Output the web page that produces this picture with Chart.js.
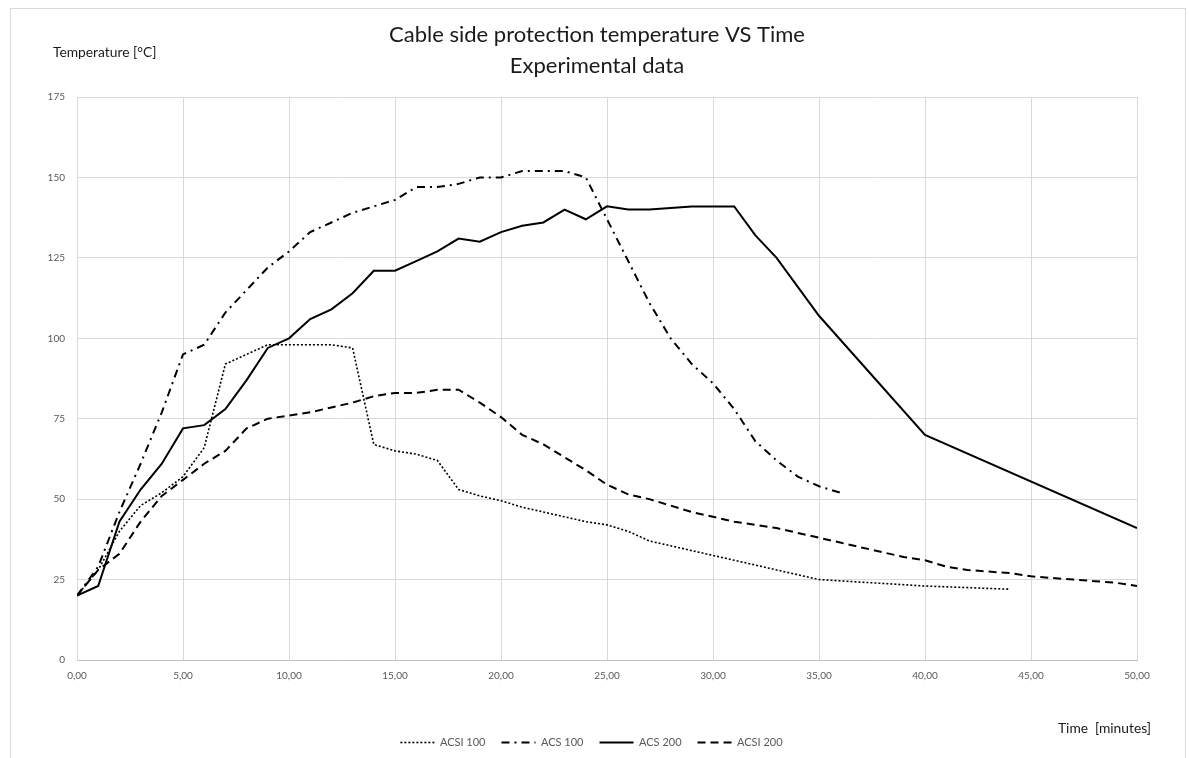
<!DOCTYPE html>
<html lang="en">
<head>
    <meta charset="UTF-8">
    <title>Cable side protection temperature VS Time</title>
    <script src="https://cdn.jsdelivr.net/npm/chart.js"></script>
    <style>
        html, body { margin: 0; padding: 0; background: #fff; }
        #wrap { position: relative; width: 1189px; height: 758px; }
    </style>
</head>
<body>
    <div id="wrap"><canvas id="myChart"></canvas></div>
    <script>
        // (time in minutes, temperature in °C)
        const acsi100Time = [0,1,2,3,4,5,6,7,8,9,10,11,12,13,14,15,16,17,18,19,20,21,22,23,24,25,26,27,28,29,30,31,32,33,34,35,40,44];
        const acsi100Temp = [20,28,40,48,52,57,66,92,95,98,98,98,98,97,67,65,64,62,53,51,49.5,47.5,46,44.5,43,42,40,37,35.5,34,32.5,31,29.5,28,26.5,25,23,22];

        const acs100Time = [0,1,2,3,4,5,6,7,8,9,10,11,12,13,14,15,16,17,18,19,20,21,22,23,24,25,26,27,28,29,30,31,32,33,34,35,36];
        const acs100Temp = [20,29,46,61,77,95,98,108,115,122,127,133,136,139,141,143,147,147,148,150,150,152,152,152,150,137,124,111,100,92,86,78,68,62,57,54,52];

        const acs200Time = [0,1,2,3,4,5,6,7,8,9,10,11,12,13,14,15,16,17,18,19,20,21,22,23,24,25,26,27,28,29,30,31,32,33,35,40,50];
        const acs200Temp = [20,23,43,53,61,72,73,78,87,97,100,106,109,114,121,121,124,127,131,130,133,135,136,140,137,141,140,140,140.5,141,141,141,132,125,107,70,41];

        const acsi200Time = [0,1,2,3,4,5,6,7,8,9,10,11,12,13,14,15,16,17,18,19,20,21,22,23,24,25,26,27,28,29,30,31,32,33,34,35,36,37,38,39,40,41,42,43,44,45,46,47,48,49,50];
        const acsi200Temp = [20,28,33,43,51,56,61,65,72,75,76,77,78.5,80,82,83,83,84,84,80,75.5,70,67,63,59,54.5,51.5,50,48,46,44.5,43,42,41,39.5,38,36.5,35,33.5,32,31,29,28,27.5,27,26,25.5,25,24.5,24,23];

        const seriesNames = ['ACSI 100', 'ACS 100', 'ACS 200', 'ACSI 200'];

        function pts(times, temps) {
            return times.map((t, i) => ({ x: t, y: temps[i] }));
        }

        const textGrey = '#595959';
        const gridGrey = '#d9d9d9';

        // frame, title and the two axis captions
        const decorations = {
            id: 'decorations',
            beforeDraw(chart) {
                const c = chart.ctx;
                c.save();
                c.fillStyle = '#fff';
                c.fillRect(0, 0, chart.width, chart.height);
                c.strokeStyle = gridGrey;
                c.lineWidth = 1;
                c.strokeRect(10.5, 8.5, 1175, 770);
                c.restore();
            },
            afterDraw(chart) {
                const c = chart.ctx;
                c.save();
                c.fillStyle = '#1a1a1a';
                c.textAlign = 'center';
                c.textBaseline = 'middle';
                c.font = '22px Lato';
                c.fillText('Cable side protection temperature VS Time', 597, 35);
                c.fillText('Experimental data', 597, 66);
                c.font = '13.8px Lato';
                c.textAlign = 'left';
                c.fillText('Temperature [°C]', 53, 53);
                c.fillText('Time  [minutes]', 1058, 729);
                c.restore();
            }
        };

        const ctx = document.getElementById('myChart').getContext('2d');
        const myChart = new Chart(ctx, {
            type: 'line',
            data: {
                datasets: [
                    { label: seriesNames[0], data: pts(acsi100Time, acsi100Temp), borderColor: '#000', borderWidth: 1.6, borderDash: [2, 2] },
                    { label: seriesNames[1], data: pts(acs100Time, acs100Temp), borderColor: '#000', borderWidth: 2, borderDash: [8, 5, 2, 5] },
                    { label: seriesNames[2], data: pts(acs200Time, acs200Temp), borderColor: '#000', borderWidth: 2 },
                    { label: seriesNames[3], data: pts(acsi200Time, acsi200Temp), borderColor: '#000', borderWidth: 2, borderDash: [8, 5] }
                ]
            },
            options: {
                responsive: true,
                maintainAspectRatio: false,
                animation: false,
                elements: { point: { radius: 0 }, line: { tension: 0 } },
                // wider left padding nudges the legend towards the sheet centre
                layout: { padding: { top: 97, left: 46, right: 52, bottom: 0 } },
                plugins: {
                    title: { display: false },
                    tooltip: { enabled: false },
                    legend: {
                        position: 'bottom',
                        labels: {
                            usePointStyle: true,
                            pointStyle: 'line',
                            pointStyleWidth: 34,
                            boxHeight: 8,
                            padding: 16,
                            color: textGrey,
                            font: { family: 'Lato', size: 11 },
                            generateLabels(chart) {
                                const items = Chart.defaults.plugins.legend.labels.generateLabels(chart);
                                items.forEach(item => {
                                    const ds = chart.data.datasets[item.datasetIndex];
                                    item.lineDash = ds.borderDash || [];
                                    item.lineWidth = ds.borderWidth;
                                    item.strokeStyle = ds.borderColor;
                                    item.pointStyle = 'line';
                                });
                                return items;
                            }
                        }
                    }
                },
                scales: {
                    x: {
                        type: 'linear',
                        min: 0,
                        max: 50,
                        afterFit(scale) { scale.height = 61; },
                        grid: { color: gridGrey, drawTicks: false },
                        border: { color: '#bfbfbf' },
                        ticks: {
                            stepSize: 5,
                            padding: 10,
                            color: textGrey,
                            font: { family: 'Lato', size: 10 },
                            maxRotation: 0,
                            callback: v => v.toFixed(2).replace('.', ',')
                        }
                    },
                    y: {
                        min: 0,
                        max: 175,
                        afterFit(scale) { scale.width = 31; },
                        grid: { color: gridGrey, drawTicks: false },
                        border: { color: gridGrey },
                        ticks: {
                            stepSize: 25,
                            padding: 12,
                            color: textGrey,
                            font: { family: 'Lato', size: 10 }
                        }
                    }
                }
            },
            plugins: [decorations]
        });
    </script>
</body>
</html>
